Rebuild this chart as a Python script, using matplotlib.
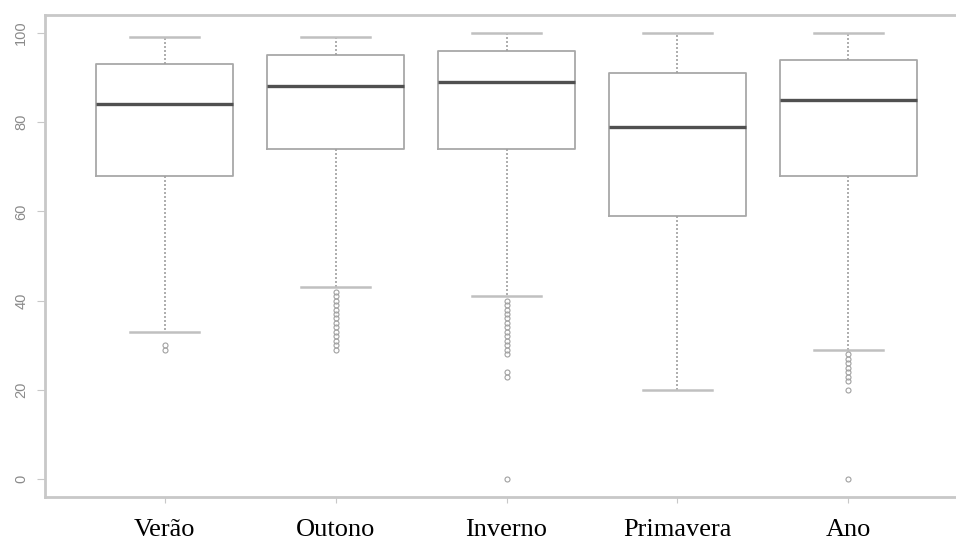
import matplotlib
matplotlib.use("Agg")
import matplotlib.pyplot as plt

labels = ["Verão", "Outono", "Inverno", "Primavera", "Ano"]
whislo = [33, 43, 41, 20, 29]
q1 = [68, 74, 74, 59, 68]
med = [84, 88, 89, 79, 85]
q3 = [93, 95, 96, 91, 94]
whishi = [99, 99, 100, 100, 100]
fliers = [
    [29, 30],
    [29, 30, 31, 32, 33, 34, 35, 36, 37, 38, 39, 40, 41, 42],
    [0, 23, 24, 28, 29, 30, 31, 32, 33, 34, 35, 36, 37, 38, 39, 40],
    [],
    [0, 20, 22, 23, 24, 25, 26, 27, 28],
]

stats = []
for i in range(len(labels)):
    stats.append(dict(label=labels[i], whislo=whislo[i], q1=q1[i], med=med[i],
                      q3=q3[i], whishi=whishi[i], fliers=fliers[i]))

fig = plt.figure(figsize=(9.56, 5.44), dpi=100)
ax = fig.add_axes([45 / 956, 47 / 544, 923 / 956, 482 / 544])

edge = "#a8a8a8"
ax.bxp(stats, widths=0.8, patch_artist=False,
       boxprops=dict(color=edge, linewidth=1.3),
       medianprops=dict(color="#505050", linewidth=2.4),
       whiskerprops=dict(color="#a0a0a0", linewidth=1.2, linestyle=(0, (1.2, 1.2))),
       capprops=dict(color="#c0c0c0", linewidth=1.8),
       capwidths=0.4,
       flierprops=dict(marker="o", markersize=3.6, markerfacecolor="none",
                       markeredgecolor="#a0a0a0", markeredgewidth=0.8))

ax.set_xlim(0.3, 5.7)
ax.set_ylim(-4, 104)
ax.set_yticks([0, 20, 40, 60, 80, 100])
ax.set_yticklabels(["0", "20", "40", "60", "80", "100"], rotation=90,
                   va="center", color="#8a8a8a", fontsize=10.5, family="Liberation Sans")
ax.set_xticks(range(1, 6))
ax.set_xticklabels(labels, family="Liberation Serif", fontsize=19, color="black")
ax.tick_params(axis="x", length=4, color="#c8c8c8", pad=12)
ax.tick_params(axis="y", length=6, color="#c8c8c8", pad=6)

for s in ["left", "bottom", "top"]:
    ax.spines[s].set_color("#c8c8c8")
    ax.spines[s].set_linewidth(2)
ax.spines["right"].set_visible(False)

fig.savefig("out.png", dpi=100)
